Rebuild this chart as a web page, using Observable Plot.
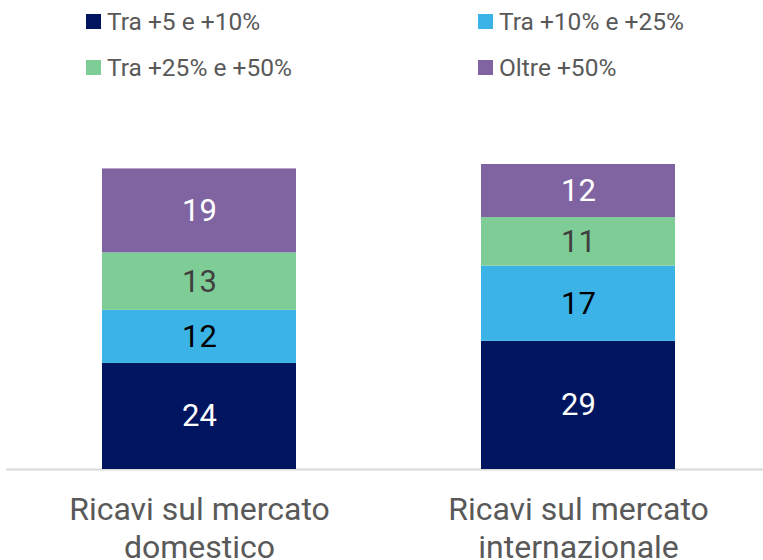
<!DOCTYPE html>
<html>
<head>
<meta charset="utf-8">
<script src="https://cdn.jsdelivr.net/npm/d3@7"></script>
<script src="https://cdn.jsdelivr.net/npm/@observablehq/plot@0.6"></script>
<style>
  body { margin: 0; background: #fff; font-family: Roboto, sans-serif; }
  #wrap { position: relative; width: 763px; height: 560px; overflow: hidden; }
  #legend { position: relative; width: 763px; height: 100px; }
  .item { position: absolute; display: flex; align-items: center; font-size: 24.5px; color: #595959; white-space: nowrap; }
  .sw { width: 15px; height: 15px; margin-right: 6px; }
</style>
</head>
<body>
<div id="wrap">
  <div id="legend"></div>
  <div id="chart"></div>
</div>
<script>
const categories = ["Ricavi sul mercato\ndomestico", "Ricavi sul mercato\ninternazionale"];
const series = ["Tra +5 e +10%", "Tra +10% e +25%", "Tra +25% e +50%", "Oltre +50%"];
const domestico = [24, 12, 13, 19];
const internazionale = [29, 17, 11, 12];
const seriesColors = ["#00155F", "#3BB3E6", "#7FCD96", "#8064A2"];
const labelColors = ["#ffffff", "#000000", "#404040", "#ffffff"];

const values = [domestico, internazionale];
const data = [];
categories.forEach((c, ci) => {
  series.forEach((s, si) => {
    data.push({cat: c, series: s, value: values[ci][si], color: seriesColors[si], label: labelColors[si]});
  });
});

// legend (two columns, two rows)
const legend = document.getElementById("legend");
const legendPos = [[86, 14], [478, 14], [86, 60], [478, 60]];
series.forEach((s, i) => {
  const d = document.createElement("div");
  d.className = "item";
  d.style.left = legendPos[i][0] + "px";
  d.style.top = (legendPos[i][1] - 7) + "px";
  d.style.height = "29px";
  d.innerHTML = `<span class="sw" style="background:${seriesColors[i]}"></span><span>${s}</span>`;
  legend.appendChild(d);
});

const chart = Plot.plot({
  width: 763,
  height: 460,
  marginLeft: 6,
  marginRight: 0,
  marginTop: 64,
  marginBottom: 91,
  style: {fontFamily: "Roboto, sans-serif", background: "#fff"},
  x: {domain: categories, paddingInner: 0.4875, paddingOuter: 0.24, align: 0.52, label: null},
  y: {domain: [0, 69], axis: null},
  color: {type: "identity"},
  marks: [
    Plot.ruleY([0], {stroke: "#d9d9d9", strokeWidth: 2}),
    Plot.barY(data, {x: "cat", y: "value", fill: "color"}),
    Plot.text(data, Plot.stackY({x: "cat", y: "value", text: d => String(d.value), fill: "label", fontSize: 31})),
    Plot.axisX({tickSize: 0, tickPadding: 24, fontSize: 32, lineHeight: 1.18, lineAnchor: "top", fill: "#595959", label: null})
  ]
});
document.getElementById("chart").appendChild(chart);
</script>
</body>
</html>
